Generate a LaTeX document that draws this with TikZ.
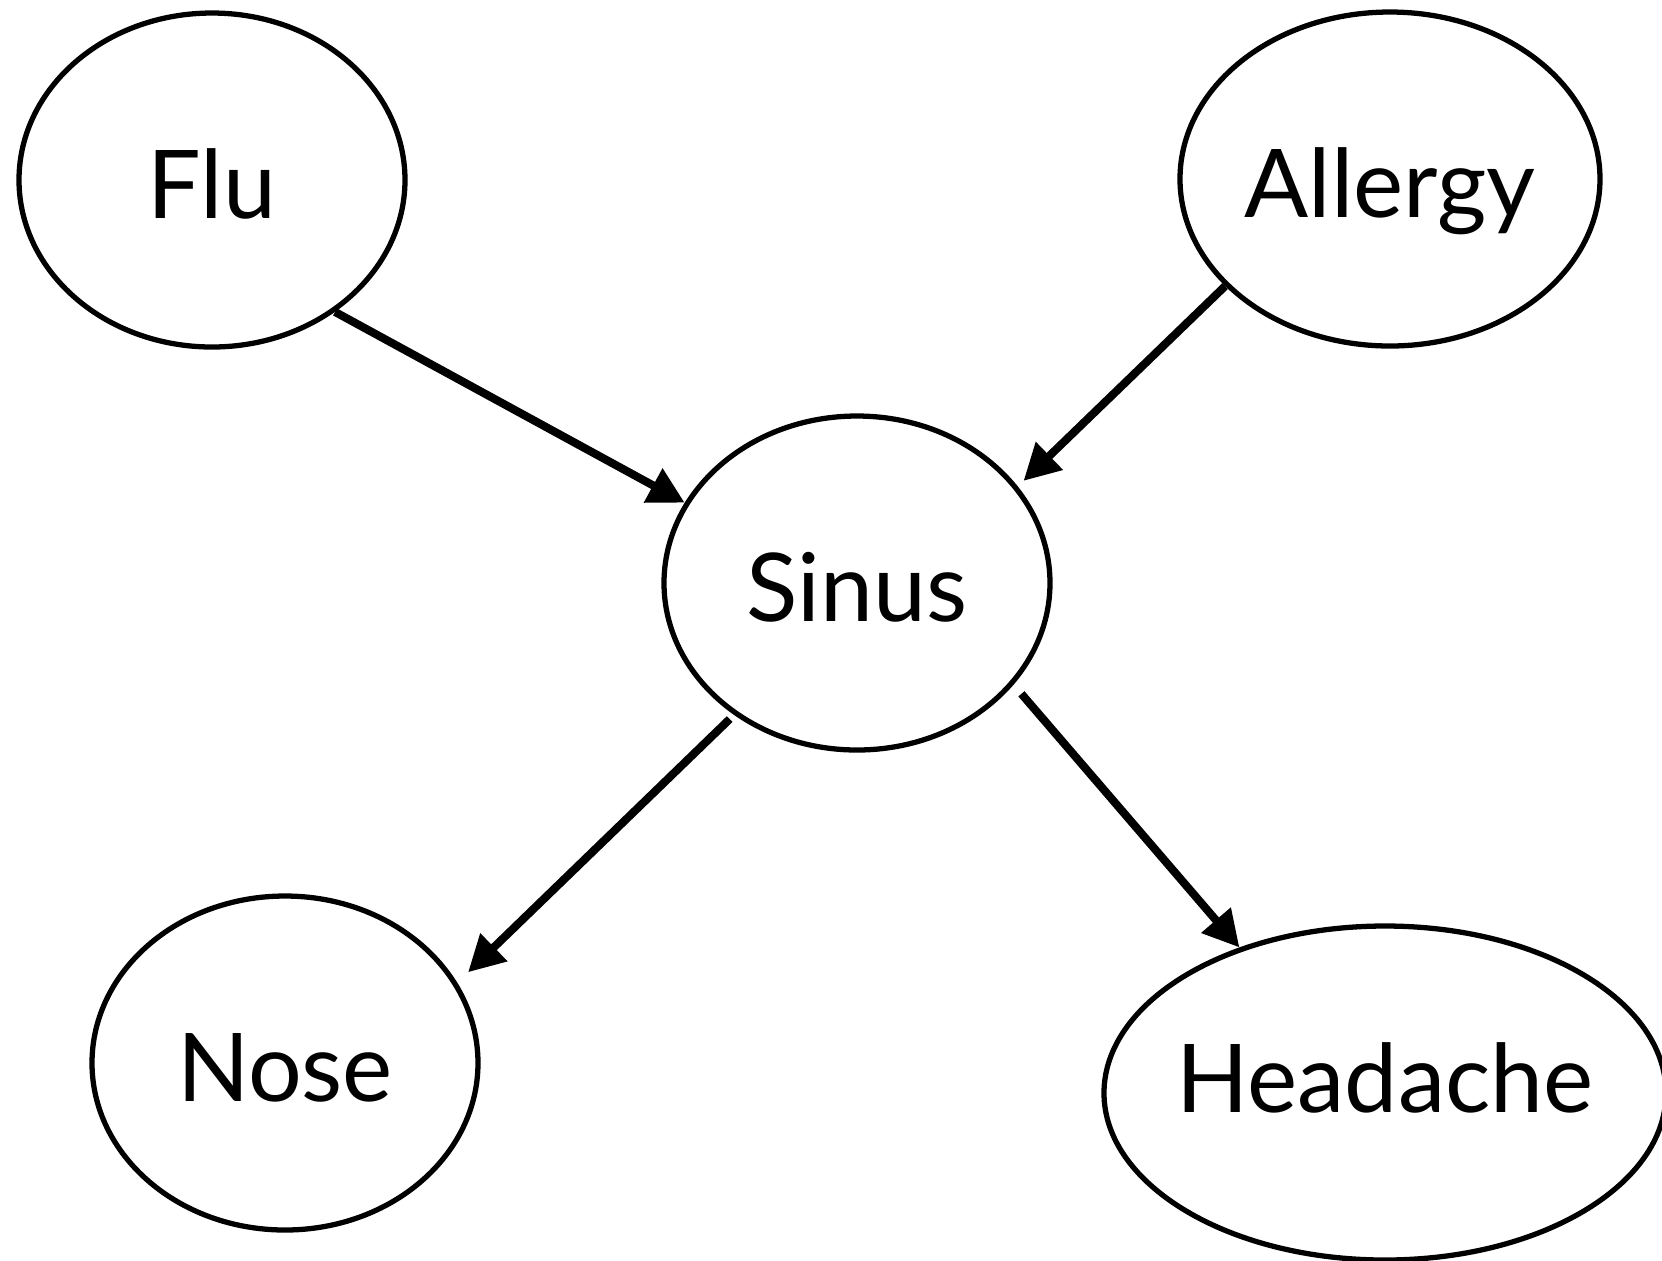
\documentclass[tikz,border=0pt]{standalone}
\usepackage{fontspec}
\setmainfont{Lato}
\usetikzlibrary{shapes.geometric, arrows.meta}
\tikzstyle{cause} = [ellipse, minimum width=3.86cm, minimum height=3.34cm, inner sep=0pt, text height=0.76cm, text depth=0pt, draw=black, line width=1.5pt, font=\fontsize{27}{30}\selectfont]
\tikzstyle{arrow} = [line width=2.3pt, -{Triangle[length=0.36cm, width=0.37cm]}]

\begin{document}
\begin{tikzpicture}
\useasboundingbox (0,0) rectangle (16.62,-12.60);

% Nodes
\node (flu) [cause] at (2.12,-1.80) {Flu};
\node (allergy) [cause, minimum width=4.20cm] at (13.90,-1.79) {Allergy};
\node (sinus) [cause] at (8.57,-5.83) {Sinus};
\node (nose) [cause] at (2.85,-10.63) {Nose};
\node (headache) [cause, minimum width=5.62cm, inner xsep=-0.3cm, text depth=0.38cm] at (13.85,-10.93) {Headache};

% Arrows
\draw [arrow] (flu.-47) -- (sinus.155);
\draw [arrow, shorten >=0.08cm] (allergy.-147) -- (sinus.31);
\draw [arrow, shorten <=0.06cm, shorten >=0.15cm] (sinus.-133) -- (nose.25);
\draw [arrow, shorten <=0.12cm] (sinus.-33) -- (headache.135);

\end{tikzpicture}
\end{document}
